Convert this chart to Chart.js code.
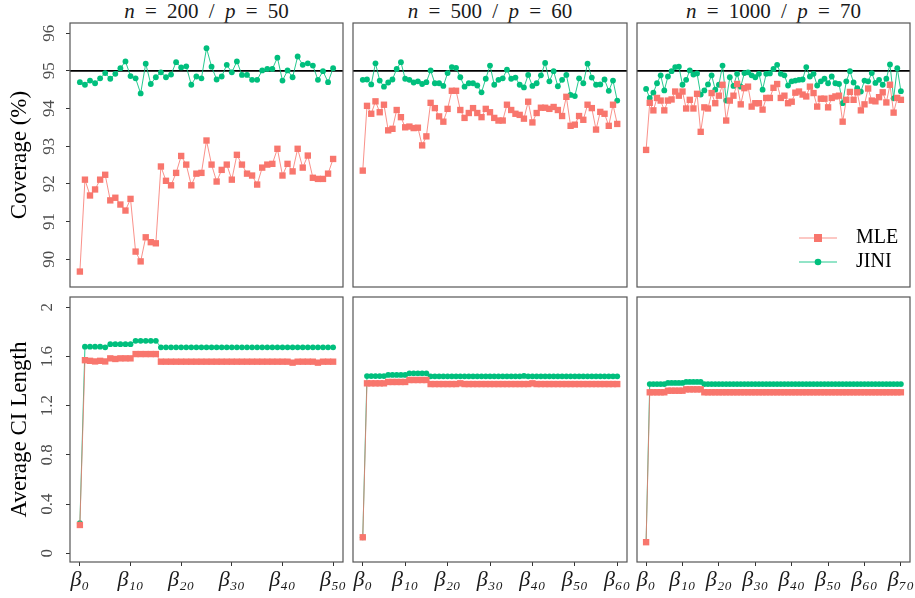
<!DOCTYPE html>
<html>
<head>
<meta charset="utf-8">
<title>Coverage and average CI length</title>
<script src="https://cdn.jsdelivr.net/npm/chart.js@4.4.1/dist/chart.umd.min.js"></script>
<style>
  body { margin: 0; background: #fff; }
  #wrap { position: relative; width: 915px; height: 598px; overflow: hidden; font-family: "Liberation Serif", serif; }
  canvas { position: absolute; }
  .ttl { position: absolute; top: 0; height: 22px; line-height: 22px; text-align: center; font-size: 21px; word-spacing: 5px; color: #1a1a1a; white-space: nowrap; }
</style>
</head>
<body>
<div id="wrap">
  <div class="ttl" style="left:70px;width:273px"><i>n</i> = 200 / <i>p</i> = 50</div>
  <div class="ttl" style="left:353px;width:274px"><i>n</i> = 500 / <i>p</i> = 60</div>
  <div class="ttl" style="left:637px;width:273px"><i>n</i> = 1000 / <i>p</i> = 70</div>
  <canvas id="tl" width="350" height="292" style="left:0;top:0"></canvas>
  <canvas id="tm" width="290" height="292" style="left:345px;top:0"></canvas>
  <canvas id="tr" width="285" height="292" style="left:630px;top:0"></canvas>
  <canvas id="bl" width="350" height="306" style="left:0;top:292px"></canvas>
  <canvas id="bm" width="290" height="306" style="left:345px;top:292px"></canvas>
  <canvas id="br" width="285" height="306" style="left:630px;top:292px"></canvas>
</div>
<script>
// coverage (%) for each coefficient beta_0 ... beta_p
const mleCov200 = [89.67, 92.11, 91.69, 91.85, 92.11, 92.24, 91.56, 91.63, 91.45, 91.29,
  91.60, 90.20, 89.94, 90.58, 90.45, 90.42, 92.46, 92.08, 91.96, 92.29,
  92.74, 92.51, 91.96, 92.27, 92.29, 93.15, 92.51, 92.06, 92.37, 92.51,
  92.11, 92.77, 92.51, 92.27, 92.22, 91.98, 92.43, 92.51, 92.53, 92.93,
  92.22, 92.53, 92.33, 92.93, 92.43, 92.75, 92.16, 92.13, 92.13, 92.27, 92.66];
const jiniCov200 = [94.70, 94.63, 94.74, 94.67, 94.80, 94.94, 94.79, 94.92, 95.07, 95.25,
  94.86, 94.80, 94.40, 95.19, 94.65, 94.83, 94.96, 94.83, 94.90, 95.23,
  95.09, 95.12, 94.63, 94.85, 94.80, 95.60, 95.11, 94.77, 94.85, 95.16,
  94.96, 95.25, 94.89, 94.89, 94.76, 94.76, 95.01, 95.05, 95.05, 95.35,
  94.74, 95.01, 94.83, 95.38, 95.16, 95.20, 95.14, 94.76, 94.99, 94.70, 95.07];
const mleCov500 = [92.35, 94.07, 93.86, 94.19, 93.90, 94.10, 93.42, 93.46, 93.96, 93.77,
  93.50, 93.52, 93.48, 93.49, 93.02, 93.26, 94.15, 94.01, 93.79, 93.65,
  93.99, 94.47, 94.47, 93.96, 93.75, 93.88, 94.01, 93.88, 93.77, 93.99,
  93.90, 93.75, 93.68, 93.68, 94.10, 93.96, 93.86, 93.83, 93.73, 94.18,
  93.63, 93.88, 94.02, 94.02, 93.99, 94.04, 93.96, 93.80, 94.31, 93.54,
  93.57, 93.80, 93.70, 94.10, 94.01, 93.44, 93.91, 93.86, 93.54, 94.10, 93.59];
const jiniCov500 = [94.76, 94.77, 94.64, 95.20, 94.74, 94.58, 94.69, 94.77, 95.05, 95.23,
  94.79, 94.76, 94.69, 94.72, 94.65, 94.70, 95.01, 94.67, 94.67, 94.60,
  94.94, 95.10, 95.08, 94.83, 94.58, 94.67, 94.67, 94.61, 94.43, 94.79,
  95.14, 94.63, 94.76, 94.80, 95.03, 94.79, 94.82, 94.63, 94.56, 94.89,
  94.60, 94.67, 94.88, 95.21, 94.72, 94.99, 94.59, 94.76, 94.89, 94.36,
  94.33, 94.80, 94.67, 95.19, 94.82, 94.63, 94.64, 94.77, 94.47, 94.74, 94.21];
const mleCov1000 = [92.90, 94.15, 93.95, 94.28, 94.21, 93.95, 94.21, 94.24, 94.45, 94.34,
  94.45, 94.00, 94.23, 94.00, 94.39, 93.38, 94.03, 94.00, 94.41, 94.14,
  94.34, 94.63, 93.68, 94.21, 94.34, 94.65, 94.11, 94.54, 94.58, 94.05,
  94.14, 94.14, 93.97, 94.28, 94.28, 94.55, 94.65, 94.28, 94.34, 94.14,
  94.18, 94.42, 94.45, 94.37, 94.32, 94.58, 94.41, 94.05, 94.26, 94.26,
  94.03, 94.28, 94.32, 94.34, 93.65, 94.23, 94.44, 94.23, 94.43, 93.95,
  94.11, 94.53, 94.21, 94.19, 94.30, 94.43, 94.16, 94.63, 93.89, 94.28, 94.23];
const jiniCov1000 = [94.52, 94.28, 94.42, 94.67, 94.88, 94.48, 94.85, 94.99, 95.10, 95.11,
  94.63, 94.76, 95.01, 94.90, 94.93, 94.37, 94.48, 94.64, 94.88, 94.50,
  94.63, 95.14, 94.21, 94.83, 94.60, 94.92, 94.58, 94.94, 94.96, 94.88,
  94.83, 94.92, 94.50, 94.92, 94.93, 95.05, 95.16, 94.92, 94.88, 94.61,
  94.72, 94.74, 94.76, 94.77, 95.10, 94.85, 94.92, 94.61, 94.72, 94.79,
  94.67, 94.85, 94.67, 94.65, 94.14, 94.72, 94.99, 94.69, 94.54, 94.45,
  94.74, 94.72, 94.94, 94.68, 94.76, 94.63, 94.79, 95.17, 94.27, 95.07, 94.46];

// average CI length
const mleLen200 = [0.230, 1.570, 1.565, 1.560, 1.565, 1.560, 1.585, 1.580, 1.585, 1.585,
  1.585, 1.620, 1.620, 1.620, 1.620, 1.620, 1.558, 1.558, 1.558, 1.558,
  1.558, 1.558, 1.558, 1.558, 1.558, 1.558, 1.558, 1.558, 1.558, 1.558,
  1.558, 1.558, 1.558, 1.558, 1.558, 1.558, 1.558, 1.558, 1.558, 1.558,
  1.558, 1.558, 1.550, 1.558, 1.558, 1.558, 1.558, 1.550, 1.558, 1.558, 1.558];
const jiniLen200 = [0.244, 1.680, 1.680, 1.680, 1.680, 1.675, 1.700, 1.700, 1.700, 1.700,
  1.700, 1.728, 1.728, 1.728, 1.728, 1.728, 1.675, 1.675, 1.675, 1.675,
  1.675, 1.675, 1.675, 1.675, 1.675, 1.675, 1.675, 1.675, 1.675, 1.675,
  1.675, 1.675, 1.675, 1.675, 1.675, 1.675, 1.675, 1.675, 1.675, 1.675,
  1.675, 1.675, 1.675, 1.675, 1.675, 1.675, 1.675, 1.675, 1.675, 1.675, 1.675];
const mleLen500 = [0.130, 1.382, 1.382, 1.382, 1.382, 1.382, 1.393, 1.393, 1.393, 1.393,
  1.393, 1.409, 1.409, 1.409, 1.409, 1.409, 1.376, 1.376, 1.376, 1.376,
  1.376, 1.376, 1.376, 1.382, 1.376, 1.376, 1.376, 1.376, 1.376, 1.376,
  1.376, 1.376, 1.376, 1.376, 1.376, 1.376, 1.376, 1.376, 1.376, 1.376,
  1.382, 1.376, 1.376, 1.376, 1.376, 1.376, 1.376, 1.376, 1.376, 1.376,
  1.376, 1.376, 1.376, 1.376, 1.376, 1.376, 1.376, 1.376, 1.376, 1.376, 1.376];
const jiniLen500 = [0.130, 1.441, 1.441, 1.441, 1.441, 1.441, 1.450, 1.450, 1.450, 1.450,
  1.450, 1.463, 1.463, 1.463, 1.463, 1.463, 1.439, 1.439, 1.439, 1.439,
  1.439, 1.439, 1.439, 1.439, 1.439, 1.439, 1.439, 1.439, 1.439, 1.439,
  1.439, 1.439, 1.439, 1.439, 1.439, 1.439, 1.439, 1.439, 1.442, 1.439,
  1.439, 1.439, 1.439, 1.439, 1.439, 1.439, 1.439, 1.439, 1.439, 1.439,
  1.439, 1.439, 1.439, 1.439, 1.439, 1.439, 1.439, 1.439, 1.439, 1.439, 1.439];
const mleLen1000 = [0.090, 1.309, 1.309, 1.309, 1.309, 1.309, 1.322, 1.322, 1.322, 1.322,
  1.322, 1.333, 1.333, 1.333, 1.333, 1.333, 1.309, 1.309, 1.309, 1.309,
  1.309, 1.309, 1.309, 1.309, 1.309, 1.309, 1.309, 1.309, 1.309, 1.309,
  1.309, 1.309, 1.309, 1.309, 1.309, 1.309, 1.309, 1.309, 1.309, 1.309,
  1.309, 1.309, 1.309, 1.309, 1.309, 1.309, 1.309, 1.309, 1.309, 1.309,
  1.309, 1.309, 1.309, 1.309, 1.309, 1.309, 1.309, 1.309, 1.309, 1.309,
  1.309, 1.309, 1.309, 1.309, 1.309, 1.309, 1.309, 1.309, 1.309, 1.309, 1.309];
const jiniLen1000 = [0.090, 1.376, 1.376, 1.376, 1.376, 1.376, 1.385, 1.385, 1.385, 1.385,
  1.385, 1.393, 1.393, 1.393, 1.393, 1.393, 1.376, 1.376, 1.376, 1.376,
  1.376, 1.376, 1.376, 1.376, 1.376, 1.376, 1.376, 1.376, 1.376, 1.376,
  1.376, 1.376, 1.376, 1.376, 1.376, 1.376, 1.376, 1.376, 1.376, 1.376,
  1.376, 1.376, 1.376, 1.376, 1.376, 1.376, 1.376, 1.376, 1.376, 1.376,
  1.376, 1.376, 1.376, 1.376, 1.376, 1.376, 1.376, 1.376, 1.376, 1.376,
  1.376, 1.376, 1.376, 1.376, 1.376, 1.376, 1.376, 1.376, 1.376, 1.376, 1.376];

// tick positions
const covTicks = [90, 91, 92, 93, 94, 95, 96];
const lenTicks = [0, 0.4, 0.8, 1.2, 1.6, 2];
const xTicks50 = [0, 10, 20, 30, 40, 50];
const xTicks60 = [0, 10, 20, 30, 40, 50, 60];
const xTicks70 = [0, 10, 20, 30, 40, 50, 60, 70];
const nominal = 95;

const RED = '#F8766D';
const GREEN = '#00BF7D';
const SUB = '₀₁₂₃₄₅₆₇₈₉';
const betaLabel = v => 'β' + String(v).split('').map(d => SUB[+d]).join('');

Chart.defaults.font.family = "'Liberation Serif', serif";
Chart.defaults.color = '#1a1a1a';

// panel border
const frame = {
  id: 'frame',
  afterDatasetsDraw(chart) {
    const { ctx, chartArea: a } = chart;
    ctx.save();
    ctx.strokeStyle = '#555';
    ctx.lineWidth = 1.2;
    ctx.strokeRect(a.left, a.top, a.right - a.left, a.bottom - a.top);
    ctx.restore();
  }
};

// 95% line
const refLine = {
  id: 'refLine',
  beforeDatasetsDraw(chart, args, opts) {
    if (opts.value == null) return;
    const { ctx, chartArea: a, scales: { y } } = chart;
    const py = y.getPixelForValue(opts.value);
    ctx.save();
    ctx.strokeStyle = '#000';
    ctx.lineWidth = 1.6;
    ctx.beginPath();
    ctx.moveTo(a.left, py);
    ctx.lineTo(a.right, py);
    ctx.stroke();
    ctx.restore();
  }
};

const miniLegend = {
  id: 'miniLegend',
  afterDraw(chart) {
    const { ctx, chartArea: a } = chart;
    ctx.save();
    chart.data.datasets.forEach((ds, k) => {
      const y = a.bottom - 49 + k * 24;
      const x0 = a.right - 111, x1 = a.right - 73, xm = (x0 + x1) / 2;
      ctx.strokeStyle = ds.borderColor;
      ctx.lineWidth = 1;
      ctx.beginPath();
      ctx.moveTo(x0, y);
      ctx.lineTo(x1, y);
      ctx.stroke();
      ctx.fillStyle = ds.pointBackgroundColor;
      if (ds.pointStyle === 'rect') {
        ctx.fillRect(xm - 4, y - 4, 8, 8);
      } else {
        ctx.beginPath();
        ctx.arc(xm, y, 3.3, 0, 2 * Math.PI);
        ctx.fill();
      }
      ctx.fillStyle = '#000';
      ctx.font = "20px 'Liberation Serif', serif";
      ctx.textBaseline = 'middle';
      ctx.fillText(ds.label, a.right - 54, y);
    });
    ctx.restore();
  }
};

function panel(id, mle, jini, o) {
  const pts = arr => arr.map((v, i) => ({ x: i, y: v }));
  return new Chart(document.getElementById(id), {
    type: 'line',
    data: {
      datasets: [
        { label: 'MLE', data: pts(mle), borderColor: 'rgba(248,118,109,0.8)', borderWidth: 1,
          pointStyle: 'rect', pointRadius: 4.5, pointBackgroundColor: RED, pointBorderColor: RED, pointBorderWidth: 0 },
        { label: 'JINI', data: pts(jini), borderColor: 'rgba(0,191,125,0.85)', borderWidth: 1,
          pointStyle: 'circle', pointRadius: 2.9, pointBackgroundColor: GREEN, pointBorderColor: GREEN, pointBorderWidth: 0 }
      ]
    },
    options: {
      responsive: false,
      animation: false,
      events: [],
      layout: { padding: o.pad, autoPadding: false },
      plugins: { legend: { display: false }, tooltip: { enabled: false }, refLine: { value: o.ref } },
      scales: {
        x: {
          type: 'linear', min: o.xMin, max: o.xMax, display: o.showX,
          afterBuildTicks: s => { s.ticks = o.xTicks.map(v => ({ value: v })); },
          afterFit: s => { if (o.showX) { s.height = 36; s.paddingLeft = 0; s.paddingRight = 0; } },
          grid: { drawOnChartArea: false, drawTicks: true, tickLength: 4, tickColor: '#333', tickWidth: 1 },
          border: { display: false },
          ticks: { autoSkip: false, maxRotation: 0, padding: 1, color: '#1a1a1a',
            font: { size: 22, style: 'italic' }, callback: v => betaLabel(v) }
        },
        y: {
          type: 'linear', min: o.yMin, max: o.yMax, display: o.showY,
          afterBuildTicks: s => { s.ticks = o.yTicks.map(v => ({ value: v })); },
          afterFit: s => { if (o.showY) { s.width = 70; s.paddingTop = 0; s.paddingBottom = 0; } },
          grid: { drawOnChartArea: false, drawTicks: true, tickLength: 4, tickColor: '#333', tickWidth: 1 },
          border: { display: false },
          title: { display: true, text: o.yTitle, color: '#000', font: { size: 23 }, padding: { top: 6, bottom: 0 } },
          ticks: { minRotation: 90, maxRotation: 90, crossAlign: 'center', padding: 8, color: '#4d4d4d',
            font: { size: 17 }, callback: v => String(v) }
        }
      }
    },
    plugins: o.legend ? [frame, refLine, miniLegend] : [frame, refLine]
  });
}

const cov = { yMin: 89.26, yMax: 96.27, yTicks: covTicks, yTitle: 'Coverage (%)', ref: nominal, showX: false };
const len = { yMin: -0.071, yMax: 2.084, yTicks: lenTicks, yTitle: 'Average CI Length', ref: null, showX: true };
const col1 = { xMin: -1.95, xMax: 51.95, xTicks: xTicks50 };
const col2 = { xMin: -2.3, xMax: 62.3, xTicks: xTicks60 };
const col3 = { xMin: -2.5, xMax: 72.5, xTicks: xTicks70 };

panel('tl', mleCov200, jiniCov200, { ...cov, ...col1, showY: true, pad: { top: 23, right: 7, bottom: 5, left: 0 } });
panel('tm', mleCov500, jiniCov500, { ...cov, ...col2, showY: false, pad: { top: 23, right: 8, bottom: 5, left: 8 } });
panel('tr', mleCov1000, jiniCov1000, { ...cov, ...col3, showY: false, legend: true, pad: { top: 23, right: 5, bottom: 5, left: 7 } });
panel('bl', mleLen200, jiniLen200, { ...len, ...col1, showY: true, pad: { top: 5, right: 7, bottom: 0, left: 0 } });
panel('bm', mleLen500, jiniLen500, { ...len, ...col2, showY: false, pad: { top: 5, right: 8, bottom: 0, left: 8 } });
panel('br', mleLen1000, jiniLen1000, { ...len, ...col3, showY: false, pad: { top: 5, right: 5, bottom: 0, left: 7 } });
</script>
</body>
</html>
